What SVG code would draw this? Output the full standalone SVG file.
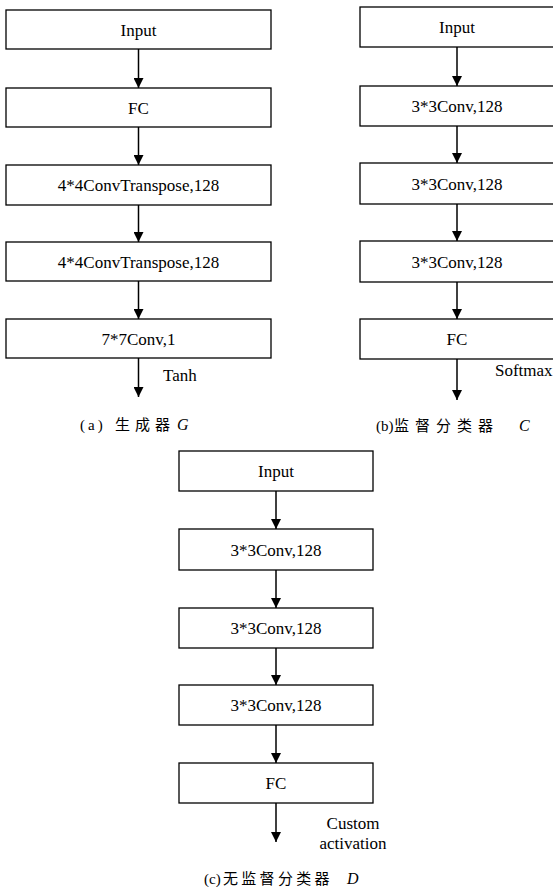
<svg xmlns="http://www.w3.org/2000/svg" width="553" height="887" viewBox="0 0 553 887">
<style>
.box{fill:#fff;stroke:#000;stroke-width:1.3}
.t{font-family:'Liberation Serif','Times New Roman','DejaVu Serif',serif;font-size:17px;fill:#000;text-anchor:middle}
.lb{font-family:'Liberation Serif','Times New Roman','DejaVu Serif',serif;font-size:17px;fill:#000}
.cap{font-family:'Liberation Serif','Times New Roman','DejaVu Serif',serif;font-size:15px;fill:#000}
.cjk{font-family:'Noto Sans CJK SC',sans-serif;font-size:15px;fill:#000}
.it{font-family:'Liberation Serif','Times New Roman','DejaVu Serif',serif;font-style:italic;font-size:16px;fill:#000}
.ar{stroke:#000;stroke-width:1.5;fill:none;marker-end:url(#ah)}
</style>
<defs>
<marker id="ah" viewBox="0 0 10 10" refX="10" refY="5" markerWidth="11" markerHeight="10" markerUnits="userSpaceOnUse" orient="auto">
<path d="M0,0 L10,5 L0,10 z" fill="#000"/>
</marker>
</defs>
<rect width="553" height="887" fill="#fff"/>

<g id="a-input"><rect class="box" x="6" y="10" width="265" height="39"/><text class="t" x="138.5" y="35.5">Input</text></g>
<g id="a-fc"><rect class="box" x="6" y="88" width="265" height="39"/><text class="t" x="138.5" y="113.5">FC</text></g>
<g id="a-ct1"><rect class="box" x="6" y="165" width="265" height="40"/><text class="t" x="138.5" y="191">4*4ConvTranspose,128</text></g>
<g id="a-ct2"><rect class="box" x="6" y="242" width="265" height="39"/><text class="t" x="138.5" y="267.5">4*4ConvTranspose,128</text></g>
<g id="a-conv"><rect class="box" x="6" y="319" width="265" height="39"/><text class="t" x="138.5" y="344.5">7*7Conv,1</text></g>

<g id="b-input"><rect class="box" x="360" y="7" width="194" height="40"/><text class="t" x="457" y="33">Input</text></g>
<g id="b-c1"><rect class="box" x="360" y="86" width="194" height="40"/><text class="t" x="457" y="112">3*3Conv,128</text></g>
<g id="b-c2"><rect class="box" x="360" y="163" width="194" height="41"/><text class="t" x="457" y="189.5">3*3Conv,128</text></g>
<g id="b-c3"><rect class="box" x="360" y="241" width="194" height="41"/><text class="t" x="457" y="267.5">3*3Conv,128</text></g>
<g id="b-fc"><rect class="box" x="360" y="319" width="194" height="40"/><text class="t" x="457" y="345">FC</text></g>

<g id="c-input"><rect class="box" x="179" y="451" width="194" height="40"/><text class="t" x="276" y="477">Input</text></g>
<g id="c-c1"><rect class="box" x="179" y="529" width="194" height="41"/><text class="t" x="276" y="555.5">3*3Conv,128</text></g>
<g id="c-c2"><rect class="box" x="179" y="608" width="194" height="40"/><text class="t" x="276" y="634">3*3Conv,128</text></g>
<g id="c-c3"><rect class="box" x="179" y="685" width="194" height="40"/><text class="t" x="276" y="711">3*3Conv,128</text></g>
<g id="c-fc"><rect class="box" x="179" y="763" width="194" height="40"/><text class="t" x="276" y="789">FC</text></g>

<g id="connectors">
<line class="ar" x1="138.5" y1="49" x2="138.5" y2="88"/>
<line class="ar" x1="138.5" y1="127" x2="138.5" y2="165"/>
<line class="ar" x1="138.5" y1="205" x2="138.5" y2="242"/>
<line class="ar" x1="138.5" y1="281" x2="138.5" y2="319"/>
<line class="ar" x1="138.5" y1="358" x2="138.5" y2="397"/>

<line class="ar" x1="457" y1="47" x2="457" y2="86"/>
<line class="ar" x1="457" y1="126" x2="457" y2="163"/>
<line class="ar" x1="457" y1="204" x2="457" y2="241"/>
<line class="ar" x1="457" y1="282" x2="457" y2="319"/>
<line class="ar" x1="457" y1="359" x2="457" y2="400"/>

<line class="ar" x1="276" y1="491" x2="276" y2="529"/>
<line class="ar" x1="276" y1="570" x2="276" y2="608"/>
<line class="ar" x1="276" y1="648" x2="276" y2="685"/>
<line class="ar" x1="276" y1="725" x2="276" y2="763"/>
<line class="ar" x1="276" y1="803" x2="276" y2="842"/>
</g>

<g id="labels">
<text class="lb" x="163" y="381">Tanh</text>
<text class="lb" x="495" y="376">Softmax</text>
<text class="t" x="353" y="829">Custom</text>
<text class="t" x="353" y="849">activation</text>
</g>

<g id="captions">
<text class="cap" x="80" y="430" letter-spacing="3">(a)</text>
<text class="cjk" x="115" y="430" letter-spacing="5">生成器</text>
<text class="it" x="177" y="430">G</text>

<text class="cap" x="376" y="431" font-size="14">(b)</text>
<text class="cjk" x="394" y="431" letter-spacing="6">监督分类器</text>
<text class="it" x="519" y="431">C</text>

<text class="cap" x="204" y="884" font-size="14">(c)</text>
<text class="cjk" x="223" y="884" letter-spacing="3.3">无监督分类器</text>
<text class="it" x="347" y="884">D</text>
</g>
</svg>
